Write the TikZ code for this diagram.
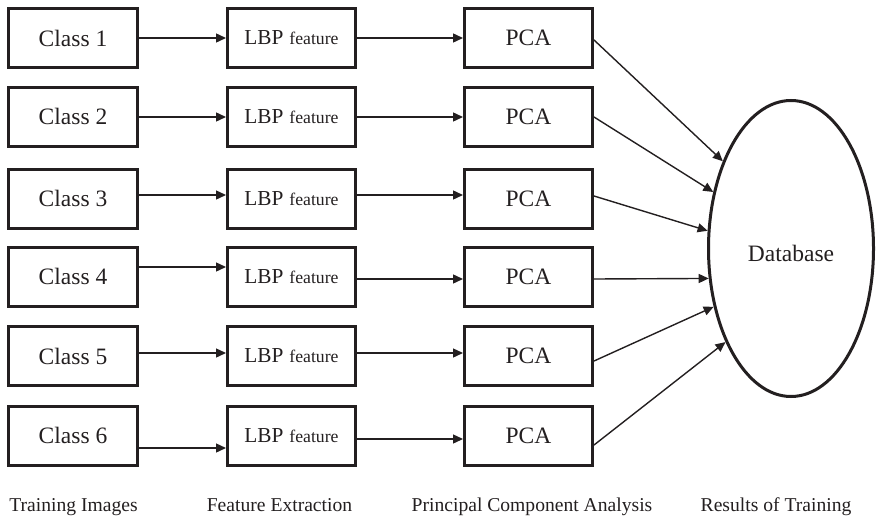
\documentclass[tikz,border=0pt]{standalone}
\usepackage{fontspec}
\setmainfont{Liberation Serif}
\usetikzlibrary{arrows.meta,shapes.geometric}
\definecolor{ink}{HTML}{231F20}
\begin{document}
\begin{tikzpicture}[x=1pt,y=-1pt,
  box/.style={draw=ink, line width=3pt, minimum height=59pt, inner sep=0pt, text=ink,
    font=\fontsize{23.5}{28}\selectfont},
  clsbox/.style={box, minimum width=129pt},
  lbpbox/.style={box, minimum width=128pt},
  pcabox/.style={box, minimum width=128pt},
  dbnode/.style={ellipse, draw=ink, line width=3pt, minimum width=165pt, minimum height=296pt,
    inner sep=0pt, text=ink, font=\fontsize{23.5}{28}\selectfont},
  arr/.style={draw=ink, line width=1.4pt, -{Triangle[length=10pt,width=9pt]}},
  caplabel/.style={font=\fontsize{19.6}{24}\selectfont, text=ink, anchor=base, inner sep=0pt}]
\useasboundingbox (0,0) rectangle (877,519);

\foreach \i/\y in {1/38,2/116.5,3/198.5,4/276.5,5/356,6/435.5}{
  \node[clsbox] (c\i) at (73,\y) {Class \i};
  \node[lbpbox] (l\i) at (291.5,\y) {{\fontsize{21.3}{26}\selectfont LBP} {\fontsize{17.7}{22}\selectfont feature}};
  \node[pcabox] (p\i) at (528.5,\y) {PCA};
}

\node[dbnode] (db) at (791,248.5) {\raisebox{-5pt}[\height][\depth]{Database}};

% Class -> LBP
\foreach \i/\y in {1/38,2/117,3/195,4/267,5/353,6/448}{
  \draw[arr] (c\i.east |- 0,\y) -- (l\i.west |- 0,\y);
}
% LBP -> PCA
\foreach \i/\y in {1/38,2/117,3/195,4/279,5/353,6/439}{
  \draw[arr] (l\i.east |- 0,\y) -- (p\i.west |- 0,\y);
}
% PCA -> Database
\foreach \i/\y/\a in {1/40/128.6,2/117/144.9,3/196/168.9,4/279/200,5/361/217.8,6/445/235.1}{
  \draw[arr] (p\i.east |- 0,\y) -- (db.\a);
}

\node[caplabel] (t1) at (73.5,511) {Training Images};
\node[caplabel] (t2) at (279.5,511) {Feature Extraction};
\node[caplabel] (t3) at (532,511) {Principal Component Analysis};
\node[caplabel] (t4) at (776,511) {Results of Training};
\end{tikzpicture}
\end{document}
